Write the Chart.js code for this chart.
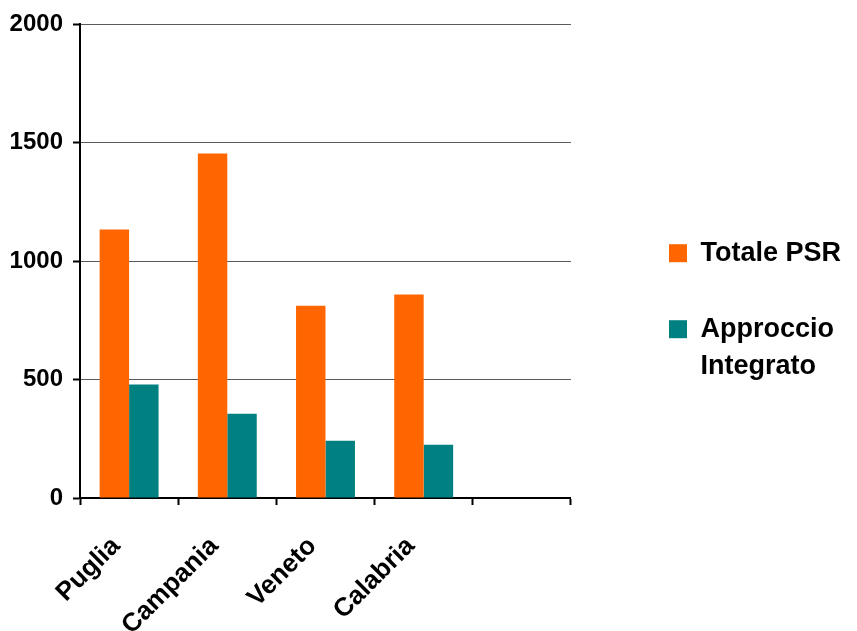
<!DOCTYPE html>
<html>
<head>
<meta charset="utf-8">
<script src="https://cdn.jsdelivr.net/npm/chart.js@4/dist/chart.umd.min.js"></script>
<style>
  html, body { margin: 0; padding: 0; background: #fff; }
  #wrap { width: 857px; height: 631px; }
</style>
</head>
<body>
<div id="wrap"><canvas id="mycanvas"></canvas></div>
<script>
var regioni = ['Puglia', 'Campania', 'Veneto', 'Calabria', ''];
var totalePSR = [1134, 1455, 812, 859, null];
var approccioIntegrato = [479, 356, 242, 225, null];
var serieNomi = ['Totale PSR', ['Approccio', 'Integrato']];
var yTicks = [0, 500, 1000, 1500, 2000];

var font = 'Liberation Sans, Arial, sans-serif';

var chartdata = {
	labels: regioni,
	datasets: [
		{
			label: serieNomi[0],
			backgroundColor: '#FF6600',
			data: totalePSR
		},
		{
			label: serieNomi[1],
			backgroundColor: '#008080',
			data: approccioIntegrato
		}
	]
};

var ctx = document.getElementById('mycanvas');

var barGraph = new Chart(ctx, {
	type: 'bar',
	data: chartdata,
	options: {
		responsive: true,
		maintainAspectRatio: false,
		animation: false,
		layout: { padding: { top: 0, right: 6, bottom: 0, left: 0 } },
		datasets: {
			bar: { categoryPercentage: 0.6, barPercentage: 1.0 }
		},
		plugins: {
			tooltip: { enabled: false },
			legend: {
				position: 'right',
				maxWidth: 300,
				labels: {
					boxWidth: 18,
					boxHeight: 18,
					padding: 49,
					color: '#000',
					font: { family: font, size: 27, weight: 'bold', lineHeight: 1.4 }
				}
			}
		},
		scales: {
			x: {
				grid: {
					drawOnChartArea: false,
					drawTicks: true,
					tickLength: 7,
					tickColor: '#000',
					tickWidth: 2
				},
				border: { color: '#000', width: 2 },
				ticks: {
					color: '#000',
					minRotation: 45,
					maxRotation: 45,
					padding: 26,
					labelOffset: -13,
					font: { family: font, size: 26, weight: 'bold' }
				},
				afterFit: function(scale) { scale.height = 133; }
			},
			y: {
				min: 0,
				max: 2000,
				afterBuildTicks: function(scale) {
					scale.ticks = yTicks.map(function(v) { return { value: v }; });
				},
				grid: {
					color: '#5a5a5a',
					lineWidth: 1,
					tickLength: 7,
					tickColor: '#000',
					tickWidth: 2
				},
				border: { color: '#000', width: 2 },
				ticks: {
					color: '#000',
					padding: 10,
					font: { family: font, size: 24, weight: 'bold' },
					callback: function(value) { return String(value); }
				},
				afterFit: function(scale) { scale.width = 80; }
			},
			spazio: {
				type: 'linear',
				position: 'right',
				grid: { display: false },
				border: { display: false },
				ticks: { display: false },
				afterFit: function(scale) { scale.width = 49; }
			}
		}
	}
});
</script>
</body>
</html>
